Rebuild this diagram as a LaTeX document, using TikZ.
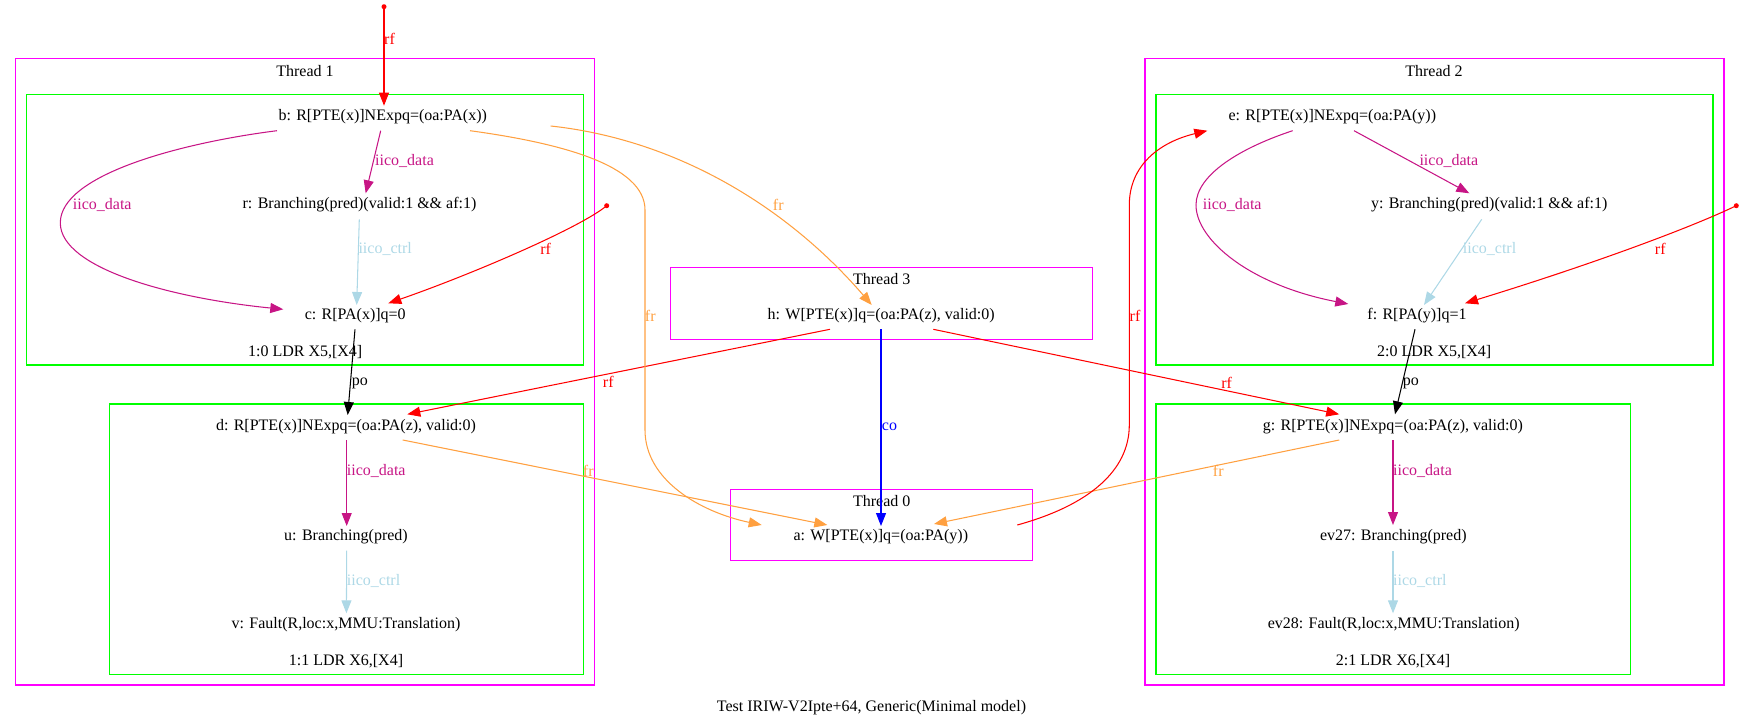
\documentclass[tikz,border=0pt]{standalone}
\usepackage{fontspec}
\setmainfont{Liberation Serif}
\usetikzlibrary{arrows.meta}
\definecolor{thr}{RGB}{255,0,255}
\definecolor{ins}{RGB}{0,255,0}
\definecolor{idata}{RGB}{199,21,133}
\definecolor{ictrl}{RGB}{173,216,230}
\definecolor{frc}{RGB}{255,160,64}
\definecolor{rfc}{RGB}{255,0,0}
\definecolor{coc}{RGB}{0,0,255}

\begin{document}
\begin{tikzpicture}[x=1pt,y=-1pt,
  every node/.style={inner sep=0pt, font=\fontsize{16}{19}\selectfont},
  thrbox/.style={draw=thr, line width=1.3pt},
  insbox/.style={draw=ins, line width=1.3pt},
  arr/.style={line width=1.05pt, -{Triangle[length=13pt,width=10pt]}},
  rfe/.style={arr, draw=rfc},
  fre/.style={arr, draw=frc},
  dat/.style={arr, draw=idata},
  ctl/.style={arr, draw=ictrl},
  poe/.style={arr, draw=black},
  coe/.style={arr, draw=coc},
  lab/.style={anchor=west},
  dotc/.style={circle, fill=rfc, minimum size=5pt, inner sep=0pt}
]
\useasboundingbox (0,0) rectangle (1743,727);

% threads and instruction clusters
\draw[thrbox] (15.7,58.7) rectangle (594.7,685);
\draw[insbox] (26.3,94.3) rectangle (583.7,365);
\draw[insbox] (109.5,404) rectangle (583.7,674.3);
\draw[thrbox] (1145,58.7) rectangle (1724,685);
\draw[insbox] (1156,94.3) rectangle (1713,365);
\draw[insbox] (1156,404) rectangle (1630.8,674.3);
\draw[thrbox] (670.7,267.7) rectangle (1092.3,339.3);
\draw[thrbox] (730.7,489.3) rectangle (1032.3,560.7);

\node (t1) at (305,70.7) {Thread 1};
\node (t2) at (1434,70.7) {Thread 2};
\node (t3) at (881.7,279.3) {Thread 3};
\node (t0) at (881.7,500.7) {Thread 0};
\node (i10) at (305.2,351.7) {1:0 LDR X5,[X4]};
\node (i11) at (346,661) {1:1 LDR X6,[X4]};
\node (i20) at (1434.2,351.7) {2:0 LDR X5,[X4]};
\node (i21) at (1393,661) {2:1 LDR X6,[X4]};
\node (cap) at (871.5,708) {Test IRIW-V2Ipte+64, Generic(Minimal model)};

% events
\node (b) at (382.7,116.7) {b: R[PTE(x)]NExpq=(oa:PA(x))};
\node (r) at (359.5,205) {r: Branching(pred)(valid:1 \&\& af:1)};
\node (c) at (355.3,315.7) {c: R[PA(x)]q=0};
\node (d) at (346,426.7) {d: R[PTE(x)]NExpq=(oa:PA(z), valid:0)};
\node (u) at (346,536.7) {u: Branching(pred)};
\node (v) at (346,624.3) {v: Fault(R,loc:x,MMU:Translation)};
\node (h) at (881.2,316) {h: W[PTE(x)]q=(oa:PA(z), valid:0)};
\node (a) at (880.8,536.7) {a: W[PTE(x)]q=(oa:PA(y))};
\node (e) at (1332.3,116.7) {e: R[PTE(x)]NExpq=(oa:PA(y))};
\node (y) at (1489.2,205) {y: Branching(pred)(valid:1 \&\& af:1)};
\node (f) at (1417,315.7) {f: R[PA(y)]q=1};
\node (g) at (1392.9,426.7) {g: R[PTE(x)]NExpq=(oa:PA(z), valid:0)};
\node (ev27) at (1393.3,536.7) {ev27: Branching(pred)};
\node (ev28) at (1393.7,624.3) {ev28: Fault(R,loc:x,MMU:Translation)};

% initial-state sources
\node[dotc] (s1) at (384,6.7) {};
\node[dotc] (s2) at (606.7,205.7) {};
\node[dotc] (s3) at (1736.3,205.7) {};

% thread 1
\draw[rfe] (s1.center) -- ([shift={(1.3,-11)}]b.center);
\node[lab, text=rfc] (l1) at (384,39.3) {rf};
\draw[dat] ([shift={(-2,14)}]b.center) -- ([shift={(6.2,-11.7)}]r.center);
\node[lab, text=idata] (l2) at (375,160.7) {iico\_data};
\draw[dat] ([shift={(-105.7,14)}]b.center) .. controls (180,143) and (60,175) .. (60.3,223)
  .. controls (60.5,268) and (170,298) .. ([shift={(-72,-6.4)}]c.center);
\node[lab, text=idata] (l3) at (72.7,205) {iico\_data};
\draw[ctl] ([shift={(-0.2,14.3)}]r.center) -- ([shift={(1.4,-10.7)}]c.center);
\node[lab, text=ictrl] (l4) at (358.3,249) {iico\_ctrl};
\draw[rfe] (s2.center) .. controls (580,228) and (470,275) .. ([shift={(33,-12.4)}]c.center);
\node[text=rfc] (l5) at (545.7,249) {rf};
\draw[poe] ([shift={(-0.3,13.6)}]c.center) -- ([shift={(1.7,-11.7)}]d.center);
\node[lab] (l6) at (351.7,383.3) {po};
\draw[dat] ([shift={(0.7,13.3)}]d.center) -- ([shift={(0.7,-10.7)}]u.center);
\node[lab, text=idata] (l7) at (346.7,470.7) {iico\_data};
\draw[ctl] ([shift={(0.7,14)}]u.center) -- ([shift={(0.4,-11)}]v.center);
\node[lab, text=ictrl] (l8) at (346.7,580.7) {iico\_ctrl};

% cross-thread relations
\draw[rfe] ([shift={(-51.2,13.3)}]h.center) -- ([shift={(61.3,-12.4)}]d.center);
\node[text=rfc] (l9) at (608.3,382.3) {rf};
\draw[coe] ([shift={(-0.2,13.3)}]h.center) -- ([shift={(0.2,-10.7)}]a.center);
\node[lab, text=coc] (l10) at (881.7,427.3) {co};
\draw[rfe] ([shift={(52.1,13.3)}]h.center) -- ([shift={(-53.7,-12.4)}]g.center);
\node[text=rfc] (l11) at (1226.7,382.7) {rf};
\draw[fre] ([shift={(168,9.3)}]b.center) .. controls (680,140) and (790,210) .. ([shift={(-9.5,-11)}]h.center);
\node[text=frc] (l12) at (778.3,204.5) {fr};
\draw[fre] ([shift={(87.3,14)}]b.center) .. controls (560,143) and (645,165) .. (645,210)
  -- (645,430) .. controls (645,480) and (700,512) .. ([shift={(-119.1,-11.7)}]a.center);
\node[text=frc] (l13) at (650.3,315.7) {fr};
\draw[fre] ([shift={(56.7,13.3)}]d.center) -- ([shift={(-53.5,-11.7)}]a.center);
\node[text=frc] (l14) at (588.3,470.7) {fr};
\draw[fre] ([shift={(-53.7,13.3)}]g.center) -- ([shift={(53.2,-12.7)}]a.center);
\node[text=frc] (l15) at (1218.3,470.7) {fr};
\draw[rfe] ([shift={(136.5,-11.7)}]a.center) .. controls (1090,505) and (1129.3,470) .. (1129.3,425)
  -- (1129.3,205) .. controls (1129.3,165) and (1160,142) .. ([shift={(-125,14)}]e.center);
\node[text=rfc] (l16) at (1135,315.7) {rf};

% thread 2
\draw[dat] ([shift={(-39.6,14)}]e.center) .. controls (1240,148) and (1196,175) .. (1196,205)
  .. controls (1196,240) and (1250,285) .. ([shift={(-68.7,-11.7)}]f.center);
\node[lab, text=idata] (l17) at (1202.7,205) {iico\_data};
\draw[dat] ([shift={(21.7,14)}]e.center) -- ([shift={(-19.9,-11.7)}]y.center);
\node[lab, text=idata] (l18) at (1419.3,160.7) {iico\_data};
\draw[ctl] ([shift={(-7.5,14.3)}]y.center) -- ([shift={(7,-10.7)}]f.center);
\node[lab, text=ictrl] (l19) at (1462.7,249) {iico\_ctrl};
\draw[rfe] (s3.center) .. controls (1690,228) and (1590,265) .. ([shift={(48,-12.4)}]f.center);
\node[text=rfc] (l20) at (1660.3,249) {rf};
\draw[poe] ([shift={(-2,13.6)}]f.center) -- ([shift={(2.1,-12.4)}]g.center);
\node[lab] (l21) at (1402.7,383.3) {po};
\draw[dat] ([shift={(0.1,13.3)}]g.center) -- ([shift={(-0.3,-11.7)}]ev27.center);
\node[lab, text=idata] (l22) at (1393,470.7) {iico\_data};
\draw[ctl] ([shift={(-0.3,14.3)}]ev27.center) -- ([shift={(-0.7,-11)}]ev28.center);
\node[lab, text=ictrl] (l23) at (1393,580.7) {iico\_ctrl};
\end{tikzpicture}
\end{document}
